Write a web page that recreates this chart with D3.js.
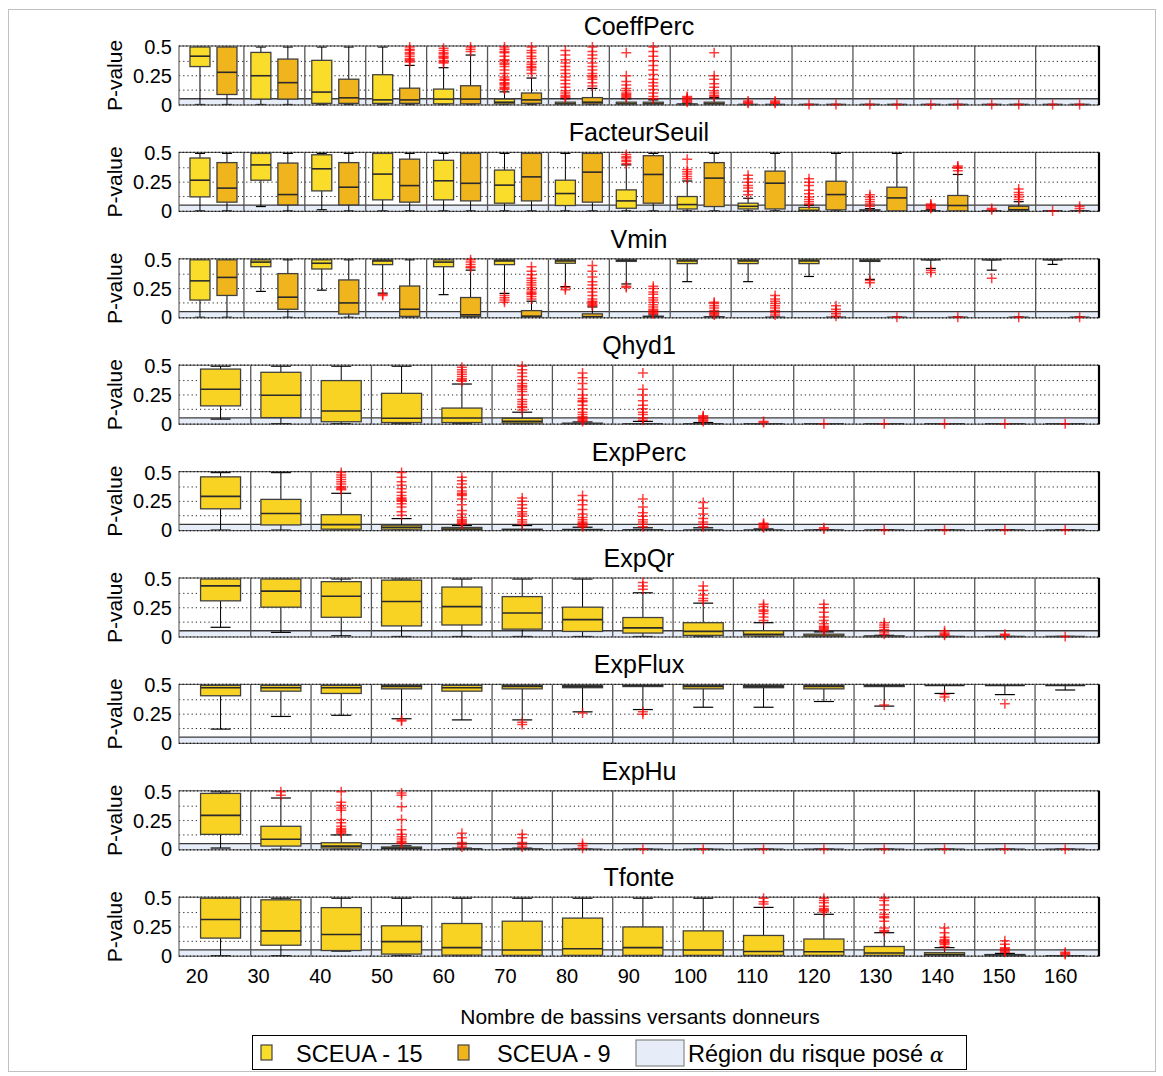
<!DOCTYPE html>
<html><head><meta charset="utf-8">
<script src="https://cdn.jsdelivr.net/npm/d3@7"></script>
<style>body{margin:0;background:#fff;} svg{display:block;font-family:Arial,"Liberation Sans",sans-serif;}</style>
</head><body>
<svg id="c" width="1163" height="1076"></svg>
<script>
// ---------------- DATA ----------------
const groups = [20,30,40,50,60,70,80,90,100,110,120,130,140,150,160];
const panelTitles = ["CoeffPerc","FacteurSeuil","Vmin","Qhyd1","ExpPerc","ExpQr","ExpFlux","ExpHu","Tfonte"];
const yTickValues = [0, 0.25, 0.5];
const yTickLabels = ["0", "0.25", "0.5"];
const gridValues = [0.125, 0.25, 0.375];
const alphaRisk = 0.05;
const seriesNames = ["SCEUA - 15", "SCEUA - 9"];
const riskLabel = "Région du risque posé ";
const xAxisTitle = "Nombre de bassins versants donneurs";
const yAxisTitle = "P-value";

// box stats per group: [lower whisker, q1, median, q3, upper whisker]
const coeffPerc15 = [
 [0,0.33,0.42,0.5,0.5],[0,0.047,0.25,0.453,0.5],[0,0.01,0.108,0.384,0.5],[0,0.01,0.04,0.259,0.5],
 [0,0.006,0.047,0.134,0.32],[0,0.005,0.02,0.047,0.11],[0,0,0.005,0.02,0.05],[0,0,0.005,0.02,0.05],
 [0,0,0,0.005,0.01],[0,0,0,0,0],[0,0,0,0,0],[0,0,0,0,0],[0,0,0,0,0],[0,0,0,0,0],[0,0,0,0,0]];
const coeffPerc15Out = [[],[],[],[],
 [0.36,0.37,0.38,0.4,0.41,0.42,0.44,0.45,0.47,0.49],
 [0.13,0.14,0.15,0.17,0.18,0.19,0.21,0.22,0.24,0.27,0.3,0.33,0.35,0.36,0.38,0.39,0.42,0.45,0.46,0.48,0.5],
 [0.06,0.07,0.08,0.1,0.12,0.15,0.18,0.21,0.24,0.27,0.3,0.33,0.36,0.39,0.43,0.47],
 [0.06,0.07,0.08,0.09,0.1,0.12,0.14,0.17,0.2,0.25,0.45],
 [0.02,0.03,0.04,0.05,0.06,0.07],[0.01,0.02,0.03],[0],[0],[0],[0],[0]];
const coeffPerc9 = [
 [0,0.087,0.28,0.5,0.5],[0,0.047,0.19,0.395,0.5],[0,0.01,0.058,0.22,0.5],[0,0.01,0.04,0.142,0.34],
 [0,0.006,0.047,0.163,0.43],[0,0.01,0.04,0.1,0.23],[0,0.005,0.02,0.06,0.14],[0,0,0.005,0.02,0.04],
 [0,0,0.005,0.02,0.06],[0,0,0,0,0],[0,0,0,0,0],[0,0,0,0,0],[0,0,0,0,0],[0,0,0,0,0],[0,0,0,0,0]];
const coeffPerc9Out = [[],[],[],
 [0.37,0.38,0.39,0.4,0.42,0.44,0.45,0.47,0.48,0.5],
 [0.46,0.48,0.5],
 [0.27,0.3,0.32,0.33,0.35,0.37,0.4,0.42,0.45,0.47,0.5],
 [0.16,0.19,0.22,0.24,0.25,0.27,0.3,0.33,0.36,0.4,0.43,0.46,0.5],
 [0.05,0.07,0.1,0.13,0.16,0.19,0.22,0.26,0.3,0.34,0.38,0.42,0.46,0.5],
 [0.07,0.08,0.1,0.12,0.15,0.18,0.22,0.25,0.45],
 [0.01,0.02,0.03],[0],[0],[0],[0],[0]];

const facteurSeuil15 = [
 [0,0.122,0.267,0.46,0.5],[0.038,0.267,0.4,0.5,0.5],[0.01,0.174,0.366,0.488,0.5],[0,0.096,0.32,0.5,0.5],
 [0,0.096,0.262,0.44,0.5],[0,0.067,0.224,0.355,0.5],[0,0.047,0.151,0.267,0.5],[0,0.023,0.087,0.183,0.4],
 [0,0.017,0.055,0.125,0.26],[0,0.017,0.04,0.067,0.11],[0,0,0.005,0.03,0.05],[0,0,0,0.01,0.02],
 [0,0,0,0,0.01],[0,0,0,0,0],[0,0,0,0,0]];
const facteurSeuil15Out = [[],[],[],[],[],[],[],
 [0.41,0.43,0.44,0.46,0.47,0.49],
 [0.28,0.3,0.32,0.34,0.36,0.45],
 [0.14,0.17,0.2,0.22,0.25,0.28,0.31],
 [0.06,0.08,0.1,0.12,0.15,0.18,0.22,0.25,0.28],
 [0.04,0.06,0.08,0.1,0.12,0.14],
 [0.02,0.03,0.04,0.05,0.06],[0.01,0.02],[0]];
const facteurSeuil9 = [
 [0,0.076,0.198,0.42,0.5],[0,0.052,0.142,0.416,0.5],[0,0.052,0.206,0.42,0.5],[0,0.076,0.22,0.45,0.5],
 [0,0.087,0.24,0.5,0.5],[0,0.087,0.296,0.5,0.5],[0,0.076,0.337,0.5,0.5],[0,0.067,0.317,0.48,0.5],
 [0,0.038,0.285,0.42,0.5],[0,0.017,0.241,0.346,0.5],[0,0.009,0.142,0.258,0.5],[0,0,0.113,0.206,0.5],
 [0,0,0.047,0.134,0.317],[0,0,0.01,0.04,0.08],[0,0,0,0,0]];
const facteurSeuil9Out = [[],[],[],[],[],[],[],[],[],[],[],[],
 [0.35,0.37,0.38,0.39],[0.1,0.12,0.14,0.16,0.19],[0.02,0.04]];

const vmin15 = [
 [0,0.15,0.317,0.5,0.5],[0.225,0.44,0.48,0.5,0.5],[0.236,0.42,0.47,0.5,0.5],[0.21,0.458,0.49,0.5,0.5],
 [0.197,0.44,0.48,0.5,0.5],[0.208,0.458,0.49,0.5,0.5],[0.267,0.47,0.49,0.5,0.5],[0.29,0.486,0.495,0.5,0.5],
 [0.31,0.467,0.49,0.5,0.5],[0.31,0.467,0.49,0.5,0.5],[0.355,0.467,0.49,0.5,0.5],[0.33,0.486,0.49,0.5,0.5],
 [0.425,0.5,0.5,0.5,0.5],[0.41,0.5,0.5,0.5,0.5],[0.46,0.5,0.5,0.5,0.5]];
const vmin15Out = [[],[],[],[0.19,0.2],[],[0.13,0.15,0.17,0.19],[0.24,0.26],[0.26,0.27],[],[],[],
 [0.3,0.32],[0.39,0.41],[0.34],[]];
const vmin9 = [
 [0,0.19,0.347,0.5,0.5],[0,0.07,0.175,0.38,0.5],[0,0.028,0.125,0.325,0.5],[0,0.008,0.07,0.272,0.5],
 [0,0.008,0.022,0.172,0.41],[0,0,0.01,0.058,0.14],[0,0,0.005,0.03,0.09],[0,0,0.003,0.01,0.02],
 [0,0,0,0.005,0.01],[0,0,0,0,0],[0,0,0,0,0],[0,0,0,0,0],[0,0,0,0,0],[0,0,0,0,0],[0,0,0,0,0]];
const vmin9Out = [[],[],[],[],
 [0.43,0.44,0.46,0.48,0.5],
 [0.16,0.18,0.2,0.21,0.22,0.24,0.26,0.28,0.3,0.32,0.34,0.37,0.4,0.44],
 [0.1,0.11,0.12,0.13,0.14,0.16,0.19,0.22,0.25,0.28,0.31,0.35,0.4,0.45],
 [0.03,0.04,0.05,0.06,0.07,0.09,0.11,0.13,0.15,0.17,0.2,0.22,0.25,0.27],
 [0.02,0.03,0.04,0.06,0.08,0.1,0.12,0.13],
 [0.02,0.04,0.06,0.08,0.1,0.12,0.14,0.16,0.19],
 [0.01,0.03,0.05,0.07,0.1],[0],[0],[0],[0]];

const qhyd1 = [
 [0.04,0.155,0.3,0.475,0.5],[0,0.053,0.247,0.447,0.5],[0,0.017,0.11,0.375,0.5],[0,0.01,0.047,0.264,0.5],
 [0,0.01,0.05,0.136,0.345],[0,0.005,0.02,0.047,0.1],[0,0,0,0.005,0.015],[0,0,0,0,0.02],
 [0,0,0,0,0.01],[0,0,0,0,0],[0,0,0,0,0],[0,0,0,0,0],[0,0,0,0,0],[0,0,0,0,0],[0,0,0,0,0]];
const qhyd1Out = [[],[],[],[],
 [0.37,0.38,0.39,0.41,0.43,0.45,0.47,0.49],
 [0.12,0.14,0.15,0.17,0.19,0.21,0.25,0.28,0.3,0.32,0.33,0.35,0.38,0.41,0.44,0.47,0.5],
 [0.02,0.03,0.04,0.05,0.06,0.08,0.1,0.13,0.16,0.19,0.2,0.22,0.25,0.3,0.35,0.4,0.44],
 [0.03,0.05,0.08,0.1,0.13,0.16,0.2,0.25,0.3,0.44],
 [0.02,0.03,0.04,0.05,0.06,0.07],[0.01,0.02],[0],[0],[0],[0],[0]];

const expPerc = [
 [0,0.185,0.293,0.463,0.5],[0,0.045,0.145,0.267,0.5],[0,0.008,0.048,0.134,0.32],[0,0.008,0.025,0.043,0.1],
 [0,0.003,0.01,0.023,0.04],[0,0,0.003,0.008,0.04],[0,0,0.002,0.006,0.025],[0,0,0,0.002,0.02],
 [0,0,0,0,0.02],[0,0,0,0,0.01],[0,0,0,0,0],[0,0,0,0,0],[0,0,0,0,0],[0,0,0,0,0],[0,0,0,0,0]];
const expPercOut = [[],[],
 [0.35,0.36,0.37,0.38,0.4,0.42,0.44,0.46,0.48,0.5],
 [0.13,0.16,0.2,0.23,0.25,0.26,0.27,0.28,0.3,0.33,0.36,0.39,0.42,0.46,0.5],
 [0.05,0.06,0.07,0.08,0.09,0.11,0.14,0.17,0.22,0.27,0.3,0.31,0.32,0.34,0.37,0.4,0.43,0.46],
 [0.05,0.07,0.09,0.12,0.14,0.16,0.19,0.22,0.25,0.28],
 [0.03,0.04,0.05,0.06,0.07,0.09,0.11,0.14,0.18,0.22,0.26,0.3],
 [0.03,0.05,0.07,0.09,0.12,0.15,0.2,0.27],
 [0.03,0.05,0.07,0.1,0.14,0.19,0.24],
 [0.02,0.03,0.04,0.05,0.06],[0.01,0.02],[0],[0],[0],[0]];

const expQr = [
 [0.08,0.31,0.44,0.5,0.5],[0.036,0.255,0.395,0.5,0.5],[0.006,0.167,0.35,0.477,0.5],[0,0.092,0.305,0.49,0.5],
 [0,0.1,0.26,0.43,0.5],[0,0.064,0.205,0.347,0.5],[0,0.044,0.147,0.255,0.5],[0,0.03,0.075,0.165,0.38],
 [0,0.01,0.045,0.12,0.29],[0,0.005,0.02,0.05,0.12],[0,0,0.005,0.02,0.04],[0,0,0,0.005,0.01],
 [0,0,0,0,0],[0,0,0,0,0],[0,0,0,0,0]];
const expQrOut = [[],[],[],[],[],[],[],
 [0.41,0.44,0.47],[0.31,0.33,0.36,0.4,0.44],[0.14,0.17,0.2,0.22,0.23,0.26,0.28],
 [0.05,0.06,0.07,0.08,0.09,0.11,0.14,0.17,0.21,0.25,0.28],[0.02,0.04,0.06,0.08,0.1,0.12],
 [0.01,0.02,0.03,0.05],[0.01,0.02],[0]];

const expFlux = [
 [0.12,0.41,0.48,0.5,0.5],[0.23,0.45,0.48,0.5,0.5],[0.24,0.43,0.48,0.5,0.5],[0.21,0.47,0.49,0.5,0.5],
 [0.2,0.45,0.48,0.5,0.5],[0.2,0.47,0.49,0.5,0.5],[0.27,0.48,0.49,0.5,0.5],[0.29,0.49,0.5,0.5,0.5],
 [0.31,0.47,0.49,0.5,0.5],[0.31,0.48,0.49,0.5,0.5],[0.36,0.47,0.49,0.5,0.5],[0.32,0.49,0.5,0.5,0.5],
 [0.43,0.5,0.5,0.5,0.5],[0.42,0.5,0.5,0.5,0.5],[0.46,0.5,0.5,0.5,0.5]];
const expFluxOut = [[],[],[],[0.19,0.2],[],[0.16,0.18],[0.26],[0.25,0.27],[],[],[],[0.33],[0.4,0.42],[0.34],[]];

const expHu = [
 [0.011,0.13,0.295,0.486,0.5],[0,0.028,0.088,0.2,0.446],[0,0.011,0.028,0.057,0.125],[0,0.003,0.01,0.02,0.03],
 [0,0,0,0.005,0.01],[0,0,0,0.003,0.01],[0,0,0,0,0],[0,0,0,0,0],[0,0,0,0,0],[0,0,0,0,0],
 [0,0,0,0,0],[0,0,0,0,0],[0,0,0,0,0],[0,0,0,0,0],[0,0,0,0,0]];
const expHuOut = [[],[0.47,0.5],
 [0.14,0.15,0.16,0.17,0.18,0.2,0.23,0.26,0.34,0.36,0.38,0.41,0.5],
 [0.05,0.06,0.07,0.09,0.11,0.13,0.17,0.26,0.37,0.47,0.49],
 [0.02,0.04,0.06,0.1,0.14],[0.02,0.04,0.06,0.1,0.13],[0.01,0.03,0.05],
 [0],[0],[0],[0],[0],[0],[0],[0]];

const tfonte = [
 [0,0.153,0.315,0.5,0.5],[0,0.091,0.216,0.486,0.5],[0.04,0.045,0.185,0.418,0.5],[0,0.014,0.122,0.26,0.5],
 [0,0.005,0.07,0.28,0.5],[0,0.003,0.05,0.3,0.5],[0,0.003,0.06,0.327,0.5],[0,0.003,0.07,0.25,0.5],
 [0,0.003,0.05,0.216,0.5],[0,0.003,0.037,0.176,0.42],[0,0.003,0.034,0.145,0.36],[0,0.003,0.023,0.08,0.2],
 [0,0,0.01,0.026,0.07],[0,0,0.003,0.01,0.02],[0,0,0,0,0]];
const tfonteOut = [[],[],[],[],[],[],[],[],[],
 [0.45,0.47,0.5],
 [0.38,0.39,0.4,0.41,0.43,0.46,0.48,0.5],
 [0.21,0.22,0.24,0.3,0.33,0.34,0.36,0.4,0.44,0.48,0.5],
 [0.08,0.1,0.11,0.12,0.13,0.14,0.16,0.2,0.24],
 [0.03,0.04,0.05,0.06,0.07,0.1,0.13],
 [0.01,0.02,0.03]];

// ---------------- STYLE / LAYOUT ----------------
const color15 = "#fadc2a", color9 = "#f0b41d", colorSingle = "#f8d324";
const riskFill = "#e6edf8";
const plotLeft = 179, plotRight = 1099, firstTop = 46, panelStep = 106.4, panelH = 59;

const panels = [
 {title: panelTitles[0], series: [{stats: coeffPerc15, out: coeffPerc15Out, color: color15}, {stats: coeffPerc9, out: coeffPerc9Out, color: color9}]},
 {title: panelTitles[1], series: [{stats: facteurSeuil15, out: facteurSeuil15Out, color: color15}, {stats: facteurSeuil9, out: facteurSeuil9Out, color: color9}]},
 {title: panelTitles[2], series: [{stats: vmin15, out: vmin15Out, color: color15}, {stats: vmin9, out: vmin9Out, color: color9}]},
 {title: panelTitles[3], series: [{stats: qhyd1, out: qhyd1Out, color: colorSingle}]},
 {title: panelTitles[4], series: [{stats: expPerc, out: expPercOut, color: colorSingle}]},
 {title: panelTitles[5], series: [{stats: expQr, out: expQrOut, color: colorSingle}]},
 {title: panelTitles[6], series: [{stats: expFlux, out: expFluxOut, color: colorSingle}]},
 {title: panelTitles[7], series: [{stats: expHu, out: expHuOut, color: colorSingle}]},
 {title: panelTitles[8], series: [{stats: tfonte, out: tfonteOut, color: colorSingle}]}
];

const svg = d3.select("#c");
svg.append("rect").attr("x",8.5).attr("y",9.5).attr("width",1147).attr("height",1062)
  .attr("fill","none").attr("stroke","#c0c0c0");

// group index scales (two boxes per group vs one box per group)
const xTwo = d3.scaleLinear().domain([-0.566, 14.54]).range([plotLeft, plotRight]);
const xOne = d3.scaleLinear().domain([-0.689, 14.56]).range([plotLeft, plotRight]);
const xLabel = d3.scaleLinear().domain([-0.29, 14.62]).range([plotLeft, plotRight]);
const idx = d3.range(groups.length);
const plusPath = "M-5,0H5M0,-5V5";

panels.forEach((p, k) => {
  const top = firstTop + k * panelStep;
  const bottom = top + panelH;
  const y = d3.scaleLinear().domain([0, 0.5]).range([top + panelH - 0.5, top + 1]);
  const two = p.series.length === 2;
  const x = two ? xTwo : xOne;
  const bw = two ? 20 : 40;
  const offs = two ? [-13.5, 13.5] : [0];
  const g = svg.append("g");

  g.append("rect").attr("x", plotLeft).attr("y", top).attr("width", plotRight - plotLeft).attr("height", panelH).attr("fill", "#fff");
  g.append("rect").attr("x", plotLeft).attr("y", y(alphaRisk)).attr("width", plotRight - plotLeft)
    .attr("height", bottom - y(alphaRisk)).attr("fill", riskFill);
  g.selectAll(".grid").data(gridValues).join("line")
    .attr("x1", plotLeft).attr("x2", plotRight).attr("y1", d => y(d)).attr("y2", d => y(d))
    .attr("stroke", "#222").attr("stroke-width", 1).attr("stroke-dasharray", "1.2,3");
  g.append("line").attr("x1", plotLeft).attr("x2", plotRight).attr("y1", y(alphaRisk)).attr("y2", y(alphaRisk))
    .attr("stroke", "#3a3a3a").attr("stroke-width", 1.3);
  g.selectAll(".sep").data(idx.slice(0, -1)).join("line")
    .attr("x1", i => x(i + 0.5)).attr("x2", i => x(i + 0.5)).attr("y1", top).attr("y2", bottom)
    .attr("stroke", "#555").attr("stroke-width", 1.3);

  const outLayer = [];
  p.series.forEach((s, j) => {
    const bx = i => x(i) + offs[j];
    const sg = g.append("g");
    sg.selectAll(".wu").data(idx).join("line")
      .attr("x1", bx).attr("x2", bx).attr("y1", i => y(s.stats[i][3])).attr("y2", i => y(s.stats[i][4]))
      .attr("stroke", "#000").attr("stroke-width", 1);
    sg.selectAll(".wl").data(idx).join("line")
      .attr("x1", bx).attr("x2", bx).attr("y1", i => y(s.stats[i][1])).attr("y2", i => y(s.stats[i][0]))
      .attr("stroke", "#000").attr("stroke-width", 1);
    [0, 4].forEach(q => {
      sg.selectAll(".cap" + q).data(idx).join("line")
        .attr("x1", i => bx(i) - bw / 4).attr("x2", i => bx(i) + bw / 4)
        .attr("y1", i => y(s.stats[i][q])).attr("y2", i => y(s.stats[i][q]))
        .attr("stroke", "#000").attr("stroke-width", 1.2);
    });
    sg.selectAll(".box").data(idx).join("rect")
      .attr("x", i => bx(i) - bw / 2).attr("width", bw)
      .attr("y", i => y(s.stats[i][3])).attr("height", i => y(s.stats[i][1]) - y(s.stats[i][3]))
      .attr("fill", s.color).attr("stroke", "#404040").attr("stroke-width", 1.3);
    sg.selectAll(".med").data(idx).join("line")
      .attr("x1", i => bx(i) - bw / 2).attr("x2", i => bx(i) + bw / 2)
      .attr("y1", i => y(s.stats[i][2])).attr("y2", i => y(s.stats[i][2]))
      .attr("stroke", "#2a2a2a").attr("stroke-width", 1.6);
    idx.forEach(i => s.out[i].forEach(v => outLayer.push({cx: bx(i), v})));
  });

  // frame
  g.append("rect").attr("x", plotLeft).attr("y", top).attr("width", plotRight - plotLeft).attr("height", panelH)
    .attr("fill", "none").attr("stroke", "#666").attr("stroke-width", 1.2);
  [top, bottom].forEach(yy => g.append("line").attr("x1", plotLeft).attr("x2", plotRight).attr("y1", yy).attr("y2", yy)
    .attr("stroke", "#111").attr("stroke-width", 1.2).attr("stroke-dasharray", "1.2,2.4"));
  g.append("line").attr("x1", plotRight).attr("x2", plotRight).attr("y1", top).attr("y2", bottom)
    .attr("stroke", "#000").attr("stroke-width", 2.2);

  // outliers on top
  g.append("g").selectAll("path").data(outLayer).join("path")
    .attr("d", plusPath).attr("transform", d => `translate(${d.cx},${y(d.v)})`)
    .attr("stroke", "#ff0000").attr("stroke-width", 1.5).attr("stroke-opacity", 0.75).attr("fill", "none");

  // y ticks
  g.selectAll(".yt").data(yTickValues).join("text")
    .attr("x", 172).attr("y", d => y(d) + 7).attr("text-anchor", "end")
    .attr("font-size", 20).attr("fill", "#000").text((d, i) => yTickLabels[i]);
  g.append("text").attr("transform", `translate(122,${top + panelH / 2}) rotate(-90)`)
    .attr("text-anchor", "middle").attr("font-size", 21).attr("fill", "#000").text(yAxisTitle);
  g.append("text").attr("x", (plotLeft + plotRight) / 2).attr("y", top - 11)
    .attr("text-anchor", "middle").attr("font-size", 25).attr("fill", "#000").text(p.title);

  if (k === panels.length - 1) {
    g.selectAll(".xt").data(idx).join("text")
      .attr("x", i => xLabel(i)).attr("y", bottom + 27).attr("text-anchor", "middle")
      .attr("font-size", 20).attr("fill", "#000").text(i => groups[i]);
  }
});

svg.append("text").attr("x", 640).attr("y", 1024).attr("text-anchor", "middle")
  .attr("font-size", 21).attr("fill", "#000").text(xAxisTitle);

// legend
const lg = svg.append("g");
lg.append("rect").attr("x", 252.5).attr("y", 1035.5).attr("width", 714).attr("height", 34)
  .attr("fill", "#fff").attr("stroke", "#000").attr("stroke-width", 1);
lg.append("rect").attr("x", 261).attr("y", 1045).attr("width", 11).attr("height", 15)
  .attr("fill", color15).attr("stroke", "#444").attr("stroke-width", 1.2);
lg.append("text").attr("x", 296).attr("y", 1062).attr("font-size", 23.5).text(seriesNames[0]);
lg.append("rect").attr("x", 458).attr("y", 1045).attr("width", 11).attr("height", 15)
  .attr("fill", color9).attr("stroke", "#444").attr("stroke-width", 1.2);
lg.append("text").attr("x", 497).attr("y", 1062).attr("font-size", 23.5).text(seriesNames[1]);
lg.append("rect").attr("x", 636).attr("y", 1040).attr("width", 48).attr("height", 26)
  .attr("fill", riskFill).attr("stroke", "#888").attr("stroke-width", 1.2);
const t3 = lg.append("text").attr("x", 688).attr("y", 1062).attr("font-size", 23.5).text(riskLabel);
t3.append("tspan").attr("font-family", "'DejaVu Serif',serif").attr("font-style", "italic").attr("font-size", 21).text("α");
</script>
</body></html>
